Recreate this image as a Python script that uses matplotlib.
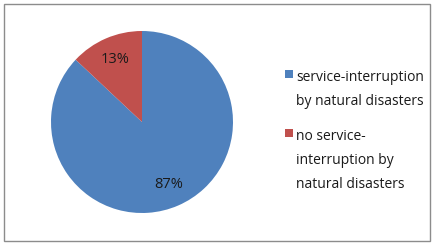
import matplotlib
matplotlib.use("Agg")
import matplotlib.pyplot as plt
from matplotlib.patches import Rectangle

labels = ["service-interruption\nby natural disasters", "no service-\ninterruption by\nnatural disasters"]
values = [87, 13]
colors = ["#4F81BD", "#C0504D"]

W, H = 435, 246
fig = plt.figure(figsize=(W / 100, H / 100), dpi=100)
fig.patch.set_facecolor("white")

# border
fig.patches.append(Rectangle((4 / W, 5 / H), 426 / W, 237 / H, transform=fig.transFigure,
                             fill=False, edgecolor="#8c8c8c", linewidth=1.0))

ax = fig.add_axes([51 / W, 33 / H, 182 / W, 182 / H])
wedges, texts, autotexts = ax.pie(values, colors=colors, startangle=90, counterclock=False,
                                  autopct="%d%%", pctdistance=0.75,
                                  textprops=dict(fontsize=10.5, color="#1a1a1a", family="Open Sans"))
ax.set_xlim(-1, 1)
ax.set_ylim(-1, 1)
ax.set_aspect("equal")

# legend built by hand
font = dict(fontsize=10, color="#1a1a1a", family="Open Sans")
ys = [77, 136]
for lab, col, y in zip(labels, colors, ys):
    fig.patches.append(Rectangle((285 / W, 1 - (y + 1) / H), 8 / W, 8 / H, transform=fig.transFigure,
                                 facecolor=col, edgecolor="none"))
    fig.text(296 / W, 1 - (y - 7) / H, lab, va="top", ha="left", linespacing=1.82, **font)

fig.savefig("out.png", dpi=100)
